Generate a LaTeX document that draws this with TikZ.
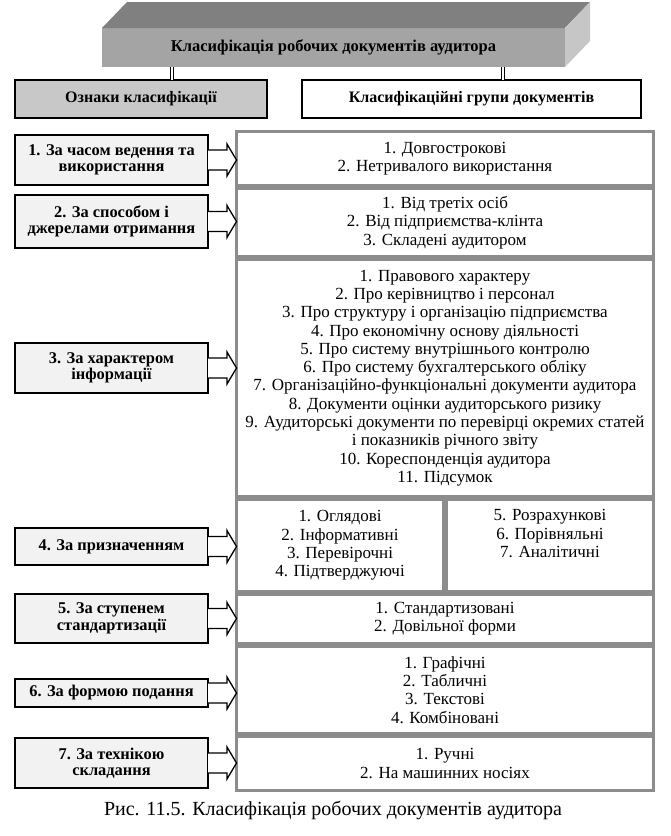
\documentclass[tikz,border=0pt]{standalone}
\usepackage{fontspec}
\setmainfont{Liberation Serif}
\usetikzlibrary{calc}
\definecolor{framegray}{HTML}{8C8C8C}
\definecolor{boxfill}{HTML}{F2F2F2}
\definecolor{headfill}{HTML}{C8C8C8}
\definecolor{frontgray}{HTML}{A4A4A4}
\definecolor{topgray}{HTML}{808080}
\definecolor{sidegray}{HTML}{C6C6C6}
\begin{document}
\begin{tikzpicture}[x=1pt,y=-1pt,
  rowbox/.style={draw=framegray, line width=3pt, fill=white, inner sep=0pt, outer sep=0pt,
    align=center, font=\fontsize{17}{18.3}\selectfont},
  leftbox/.style={draw=black, line width=2pt, fill=boxfill, inner sep=0pt, outer sep=0pt,
    align=center, minimum width=193pt, font=\bfseries\fontsize{16.4}{16.5}\selectfont},
  headbox/.style={draw=black, line width=2.5pt, inner sep=0pt, outer sep=0pt,
    minimum height=38pt, font=\bfseries\fontsize{16}{18}\selectfont},
  titlebox/.style={fill=frontgray, inner sep=0pt, outer sep=0pt, minimum width=463pt,
    minimum height=39pt, font=\bfseries\fontsize{16.5}{18}\selectfont},
  dbl/.style={draw=black, double=white, double distance=2pt, line width=1.1pt},
  arrowshape/.style={draw=black, fill=white, line width=1.3pt, line join=miter},
  caption/.style={font=\fontsize{20}{22}\selectfont, inner sep=0pt}
]
\useasboundingbox (0,0) rectangle (670,836);

% title 3D box
\node[titlebox] (title) at (333.5,47.5) {Класифікація робочих документів аудитора};
\fill[topgray] (title.north west) -- ++(25,-26) -- ($(title.north east)+(25,-26)$) -- (title.north east) -- cycle;
\fill[sidegray] (title.north east) -- ++(25,-26) -- ++(0,39) -- (title.south east) -- cycle;

% header boxes
\node[headbox, fill=headfill, minimum width=252pt] (hl) at (141,99) {Ознаки класифікації};
\node[headbox, fill=white, minimum width=339pt] (hr) at (471.5,99) {Класифікаційні групи документів};

\path (title.south west) ++(70,0) coordinate (c1);
\path (title.south west) ++(401,0) coordinate (c2);
\draw[dbl] (c1) -- (c1 |- hl.north);
\draw[dbl] (c2) -- (c2 |- hr.north);

% right rows
\node[rowbox, minimum width=417pt, minimum height=54pt] (r1) at (445,158.5)
  {1. Довгострокові\\2. Нетривалого використання};
\node[rowbox, minimum width=417pt, minimum height=68pt] (r2) at (445,222.5)
  {1. Від третіх осіб\\2. Від підприємства-клінта\\3. Складені аудитором};
\node[rowbox, minimum width=417pt, minimum height=237pt] (r3) at (445,378)
  {1. Правового характеру\\2. Про керівництво і персонал\\3. Про структуру і організацію підприємства\\4. Про економічну основу діяльності\\5. Про систему внутрішнього контролю\\6. Про систему бухгалтерського обліку\\7. Організаційно-функціональні документи аудитора\\8. Документи оцінки аудиторського ризику\\9. Аудиторські документи по перевірці окремих статей\\і показників річного звіту\\10. Кореспонденція аудитора\\11. Підсумок};
\node[rowbox, minimum width=207pt, minimum height=92pt] (r4) at (340,545.5)
  {1. Оглядові\\2. Інформативні\\3. Перевірочні\\4. Підтверджуючі};
\node[rowbox, minimum width=207pt, minimum height=92pt] (r4b) at (550,545.5)
  {5. Розрахункові\\6. Порівняльні\\7. Аналітичні\\\strut};
\node[rowbox, minimum width=417pt, minimum height=49pt] (r5) at (445,619)
  {1. Стандартизовані\\2. Довільної форми};
\node[rowbox, minimum width=417pt, minimum height=87pt] (r6) at (445,690)
  {1. Графічні\\2. Табличні\\3. Текстові\\4. Комбіновані};
\node[rowbox, minimum width=417pt, minimum height=54pt] (r7) at (445,763.5)
  {1. Ручні\\2. На машинних носіях};

% left boxes
\node[leftbox, minimum height=50pt] (b1) at (111.5,160) {1. За часом ведення та\\використання};
\node[leftbox, minimum height=53pt] (b2) at (111.5,221.5) {2. За способом і\\джерелами отримання};
\node[leftbox, minimum height=50pt] (b3) at (111.5,368) {3. За характером\\інформації};
\node[leftbox, minimum height=37pt] (b4) at (111.5,546.5) {4. За призначенням};
\node[leftbox, minimum height=49pt] (b5) at (111.5,618.5) {5. За ступенем\\стандартизації};
\node[leftbox, minimum height=28pt] (b6) at (111.5,693) {6. За формою подання};
\node[leftbox, minimum height=50pt] (b7) at (111.5,763) {7. За технікою\\складання};

% arrows
\foreach \i in {1,...,7}{
  \draw[arrowshape] ($(b\i.east)+(0,-10)$) -- ++(19,0) -- ++(0,-6)
    -- (b\i.east -| r\i.west) -- ($(b\i.east)+(19,16)$) -- ++(0,-6) -- ($(b\i.east)+(0,10)$);
}

% caption
\node[caption] (cap) at (333,810) {Рис. 11.5. Класифікація робочих документів аудитора};
\end{tikzpicture}
\end{document}
